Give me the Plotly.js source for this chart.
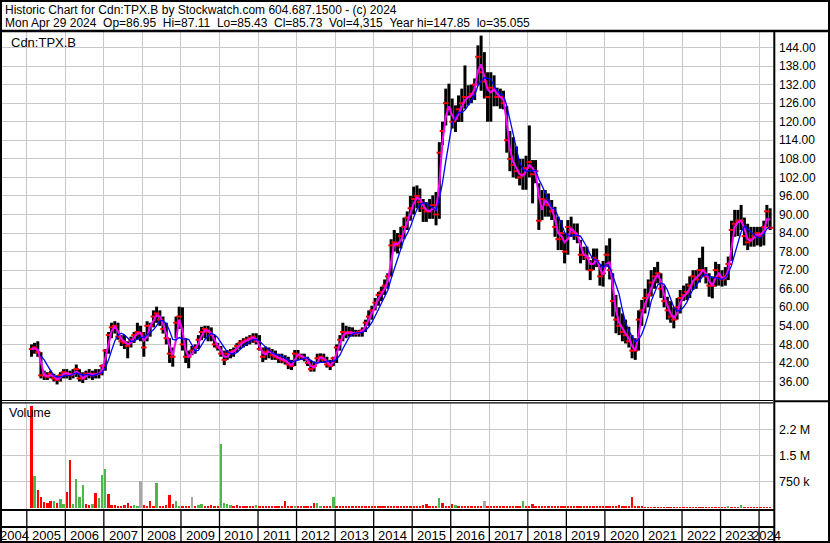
<!DOCTYPE html>
<html>
<head>
<meta charset="utf-8">
<script src="https://cdn.plot.ly/plotly-3.0.1.min.js"></script>
<style>
html,body{margin:0;padding:0;background:#fff;}
#chart{width:830px;height:543px;}
</style>
</head>
<body>
<div id="chart"></div>
<script>
// ---------------- DATA (monthly, Feb 2005 .. Apr 2024) ----------------
const startYear = 2005, startMonth = 2;

const high = [
  48,48.5,49,45.5,39.5,39,39.5,38.5,38,39,40,
  40,39.5,40,41.5,40,39,39.5,40,39.5,40,40,41.5,
  46.5,52,55,55.5,55,51,51,49,50.5,52,55,54,
  52,55.5,55,59,60.2,59,57,55,50,47,57,60.2,
  60,50,46,47.5,48,51,53.7,54,54,53.5,51,48.5,
  47.5,46,46.2,46.5,47,48.4,49.4,50,50.5,51,51.6,51.6,
  51,47,47.3,47,46.5,46,45,45,44.5,44,43,46.2,
  46.2,45,45,44,43,42.5,45,45.1,45,44,43,44,
  48,51,55,54,53.7,53.5,52.7,52.7,53.5,56,59,60.5,
  63,65,66.7,69,71,82,85,84,86,89,91,96,
  99,99.4,98.4,95,94,95,96.2,97.3,113.4,120,130.7,132.3,
  127.5,125.3,128.5,130.7,138.2,131.8,132,134,144.7,147.85,142.5,136,
  136,135,131,130.7,130,125,117,115,112,108,108,109,
  118.8,107.6,107.6,100.1,97.9,97.9,96.8,94.7,92.5,89.3,88.2,83.9,
  88.2,89.3,87.1,87.1,81.8,79.6,79.6,75.3,79,79,74,75,
  80,82.3,71,64,60,58,56,53.7,51,50,59,62.4,
  66,69,72,73,74.7,71,67,63.4,62,60,63,65.6,
  67,67.7,70,72,72,76,79.6,73,71,70,74.7,74,
  72,73,76.4,88,91.5,91.5,93.1,89,87,86,86,86,
  86,88,93.1,92
];
const low = [
  44,45,44,37,36.5,36.5,37,36,35.055,36,37,
  37,36.5,37,37.5,36,35.5,36.5,37,36.5,37,37,38,
  39.5,45,50,51.5,49.5,47.5,46.5,43.5,47,48.5,49.5,49,
  44,49,50.5,53.5,55,54,51.5,48,42,40.8,50,53,
  46,42,40.3,44.5,45,46.5,49.4,50,49,49,47,46,
  44,41.3,43,43.5,44,45.5,46.5,47,47.5,48,48.5,48,
  46,42.3,43,43.5,43,43,42,41.9,41.5,40,39.7,41,
  43,43,42.5,41,39.2,39.2,41.9,42,42,40.5,39.7,41,
  42,46,49,50,50.5,50.5,50.5,50.5,50.5,52,54,56,
  59,60.5,62,64,66,70,78,77.4,79,82,85,88,
  90,92,90.8,87.6,87.6,88.6,88.6,86.5,88.6,112.4,118.8,122,
  117.8,116.7,119.9,119.9,124.2,125.3,126,127,131.8,130,127.5,120,
  120,125,125,124.2,124,110,104,102,101.6,99.4,98,98,
  102,93.6,100.1,85,88.2,89.3,89.3,88.2,82.8,78.5,78.5,74.2,
  77,82.8,81.8,80.7,74.2,75.3,72,68.8,72,73,67,66.7,
  73,69,57,51.6,51,49,48.3,47,43.5,43,46,54,
  58,60,63.5,66,67.7,63,60,56,55,53.2,56,58,
  62,62.3,63,65.6,66,68,69.9,67.7,63.4,62.9,66.7,67,
  66.7,67,68.8,75,82.8,83,85,80,78.5,79.6,79.6,80,
  79.6,80,86,85
];
const close = [
  46.5,47,45.5,38,38,37.5,38.5,37,36.5,38,39,
  38.5,38,38.5,40,37,37,38.5,38.5,38,38.5,38.5,41,
  46,51,53.5,54,50.5,49,48.5,47.5,49.5,51,52,51.5,
  47,54,54,57,58,56,53,50,45,44,55,57,
  48,44,44,46,47,49.5,52,53,52,51,48,47,
  45,43,45,45.5,46,47.5,48.5,49,49.5,50,50.5,49,
  46.5,44,45.5,46,44.5,44,43.5,43,42.5,41.5,41,45,
  44.5,44,43.5,42,40,41,43.5,44,43,41.5,41,43.5,
  47,49.5,52,51.5,52,51.5,51.5,52,52.5,55,57,59,
  61.5,64,65,67,70,80,81,80,83,86,89,92,
  95,96,94,92,91,91,93,90,110,117,126,124,
  120,121,124,126,128,128,129,132,141,136,133,128,
  131,130,128,128,126,114,108,106,104,102,103,105,
  107,103,104,88,95,94,93,91,86,82,84,78,
  86,85,84,83,77,77,76,72,76,75,70,71,
  77,72,62,56,54,52,51,49,46,46,56,59,
  63,64,68,70,71,66,62,59,57,56,60,63,
  64,65,67,70,69,72,72,70,67,67,72,70,
  69,70,74,85,87,88,88,83,81,82,83,84,
  83,86,91,85.73
];
// largest daily volume seen in each month, millions of shares
const volume = [
  2.94,0.91,0.50,0.30,0.15,0.12,0.20,0.18,0.12,0.24,0.10,
  0.45,1.36,0.10,0.81,0.30,0.65,0.10,0.08,0.10,0.42,0.26,0.93,
  1.11,0.38,0.08,0.06,0.05,0.05,0.08,0.12,0.05,0.06,0.05,0.76,
  0.07,0.05,0.20,0.04,0.70,0.05,0.05,0.08,0.36,0.10,0.18,0.05,
  0.05,0.04,0.05,0.29,0.05,0.07,0.10,0.05,0.04,0.06,0.05,0.05,
  1.84,0.12,0.11,0.06,0.04,0.07,0.03,0.03,0.04,0.03,0.03,0.07,
  0.04,0.03,0.03,0.03,0.03,0.03,0.04,0.05,0.18,0.04,0.03,0.05,
  0.03,0.03,0.03,0.03,0.04,0.12,0.12,0.03,0.03,0.03,0.04,0.30,
  0.03,0.03,0.03,0.03,0.03,0.03,0.03,0.03,0.03,0.03,0.05,0.03,
  0.03,0.03,0.03,0.03,0.03,0.03,0.03,0.03,0.03,0.03,0.03,0.04,
  0.03,0.03,0.03,0.07,0.10,0.03,0.03,0.03,0.26,0.14,0.03,0.03,
  0.09,0.07,0.03,0.03,0.03,0.03,0.03,0.03,0.03,0.03,0.18,0.03,
  0.03,0.03,0.05,0.03,0.03,0.03,0.03,0.03,0.03,0.03,0.20,0.03,
  0.03,0.09,0.03,0.03,0.03,0.03,0.03,0.03,0.03,0.03,0.03,0.03,
  0.03,0.03,0.03,0.03,0.03,0.03,0.03,0.03,0.03,0.03,0.03,0.03,
  0.03,0.03,0.03,0.03,0.07,0.03,0.03,0.03,0.30,0.03,0.03,0.03,
  0.025,0.025,0.025,0.025,0.025,0.025,0.025,0.025,0.025,0.025,0.025,0.025,
  0.025,0.025,0.025,0.025,0.025,0.025,0.025,0.025,0.025,0.025,0.025,0.025,
  0.02,0.02,0.05,0.02,0.02,0.02,0.07,0.02,0.02,0.02,0.02,0.02,
  0.02,0.02,0.02,0.02
];
// u = up day, d = down day, n = unchanged
const volumeDir = (
  "duddddduduu" +
  "dduuuudduduu" +
  "udddddddduun" +
  "dddduddddduu" +
  "dddnduuddddd" +
  "uuuudddddddu" +
  "dddddddddddu" +
  "dddddduudddu" +
  "dddddddddddd" +
  "dddddddddddd" +
  "dddddddduddd" +
  "duddddddddnd" +
  "ddddddddddud" +
  "dddddddddddd" +
  "dddddddddddd" +
  "dddddddddddd" +
  "dddddddddddd" +
  "dddddddddddd" +
  "ddudddudddddd".slice(0, 12) +
  "dddd"
).split("");

const priceTicks = [36,42,48,54,60,66,72,78,84,90,96,102,108,114,120,126,132,138,144];
const volumeTicks = [0.75,1.5,2.25];
const volumeTickText = ["750 k","1.5 M","2.2 M"];
const yearLabels = ["2004","2005","2006","2007","2008","2009","2010","2011","2012","2013","2014",
                    "2015","2016","2017","2018","2019","2020","2021","2022","2023","2024"];

const headerLine1 = "Historic Chart for Cdn:TPX.B by Stockwatch.com 604.687.1500 - (c) 2024";
const headerLine2 = "Mon Apr 29 2024  Op=86.95  Hi=87.11  Lo=85.43  Cl=85.73  Vol=4,315  Year hi=147.85  lo=35.055";
const symbolLabel = "Cdn:TPX.B";

// ---------------- BUILD ----------------
const X_START = "2004-05-11", X_END = "2024-05-12";
const dates = close.map((_, i) => {
  const m0 = startMonth - 1 + i;
  const y = startYear + Math.floor(m0 / 12);
  const m = (m0 % 12) + 1;
  return y + "-" + String(m).padStart(2, "0") + "-15";
});
function sma(arr, n, minCount) {
  return arr.map((_, i) => {
    if (i + 1 < minCount) return null;
    const s = arr.slice(Math.max(0, i - n + 1), i + 1);
    return s.reduce((a, b) => a + b, 0) / s.length;
  });
}
const maShort = sma(close, 2, 1);
const maLong = sma(close, 5, 4);

const segX = [], segY = [];
dates.forEach((d, i) => { segX.push(d, d, null); segY.push(low[i], high[i], null); });

const dirColor = {u: "#4cb84c", d: "#ff0000", n: "#a8a8a8"};
const volColors = volumeDir.map(c => dirColor[c] || "#ff0000");

const FONT = "Liberation Sans, Arial, sans-serif";
const W0 = 2, W1 = 773, H0 = 32, H1 = 510;
const px = X => (X - W0) / (W1 - W0);
const py = Y => (H1 - Y) / (H1 - H0);

const traces = [
  {type: "scatter", mode: "lines", x: segX, y: segY, xaxis: "x", yaxis: "y",
   line: {color: "#000000", width: 3}, hoverinfo: "skip", connectgaps: false},
  {type: "scatter", mode: "markers", x: dates, y: close, xaxis: "x", yaxis: "y",
   marker: {symbol: "line-ew", size: 4, color: "#ff0000", line: {color: "#ff0000", width: 2}}},
  {type: "scatter", mode: "lines", x: dates, y: maShort, xaxis: "x", yaxis: "y",
   line: {color: "#ff00ff", width: 2}},
  {type: "scatter", mode: "lines", x: dates, y: maLong, xaxis: "x", yaxis: "y",
   line: {color: "#0000ff", width: 1.3}},
  {type: "bar", x: dates, y: volume, xaxis: "x2", yaxis: "y2",
   marker: {color: volColors, line: {width: 0}}, width: 22 * 86400000}
];

const shapes = [];
function line(x0, y0, x1, y1, w) {
  shapes.push({type: "line", xref: "paper", yref: "paper", x0: px(x0), y0: py(y0), x1: px(x1), y1: py(y1),
               line: {color: "#000", width: w}});
}
line(0, 1, 830, 1, 2);          // top border
line(1, 0, 1, 543, 2);          // left border
line(829, 0, 829, 543, 2);      // right border
line(0, 542, 830, 542, 2);      // bottom border
line(0, 31, 830, 31, 2.5);      // header separator
line(774.3, 31, 774.3, 543, 2); // axis separator
line(2, 400.5, 773, 400.5, 1.2);
line(2, 402.8, 773, 402.8, 1.2);
line(774, 401.3, 830, 401.3, 2);
line(0, 510, 774, 510, 2);      // volume bottom
line(0, 527, 774, 527, 2);      // year band line
for (let y = 2005; y <= 2024; y++) {
  shapes.push({type: "line", xref: "x2", yref: "paper", x0: y + "-01-01", x1: y + "-01-01",
               y0: py(510), y1: py(542), line: {color: "#000", width: 1.3}});
}

const annotations = [
  {text: headerLine1.replace(/ {2}/g, "\u00a0\u00a0"), xref: "paper", yref: "paper", x: px(3), y: py(10),
   xanchor: "left", yanchor: "middle", showarrow: false, font: {family: FONT, size: 12, color: "#000"}},
  {text: headerLine2.replace(/ {2}/g, "\u00a0\u00a0"), xref: "paper", yref: "paper", x: px(3), y: py(23),
   xanchor: "left", yanchor: "middle", showarrow: false, font: {family: FONT, size: 12, color: "#000"}},
  {text: symbolLabel, xref: "paper", yref: "paper", x: px(9), y: py(42),
   xanchor: "left", yanchor: "middle", showarrow: false, font: {family: FONT, size: 13, color: "#000"}},
  {text: "Volume", xref: "paper", yref: "paper", x: px(7), y: py(413),
   xanchor: "left", yanchor: "middle", showarrow: false, font: {family: FONT, size: 12.5, color: "#000"}}
];
const tS = Date.parse(X_START), tE = Date.parse(X_END);
yearLabels.forEach(lbl => {
  const y = parseInt(lbl, 10);
  const a = Math.max(Date.UTC(y, 0, 1), tS), b = Math.min(Date.UTC(y + 1, 0, 1), tE);
  annotations.push({text: lbl, xref: "x2", yref: "paper", x: new Date((a + b) / 2).toISOString().slice(0, 10),
    y: py(535), xanchor: "center", yanchor: "middle", showarrow: false,
    font: {family: FONT, size: 13, color: "#000"}});
});

const xCommon = {type: "date", range: [X_START, X_END], showticklabels: false, ticks: "",
  tick0: "2005-01-01", dtick: "M12", showgrid: true, gridcolor: "#c8c8c8", gridwidth: 1,
  zeroline: false, showline: false, fixedrange: true};

const layout = {
  width: 830, height: 543,
  margin: {l: W0, r: 830 - W1, t: H0, b: 543 - H1, pad: 0},
  paper_bgcolor: "#ffffff", plot_bgcolor: "#ffffff",
  showlegend: false, bargap: 0,
  font: {family: FONT, size: 12, color: "#000"},
  xaxis: Object.assign({}, xCommon, {anchor: "y"}),
  xaxis2: Object.assign({}, xCommon, {anchor: "y2", matches: "x"}),
  yaxis: {domain: [py(400), 1], range: [30.02, 149.01], side: "right", anchor: "x",
    tickvals: priceTicks, ticktext: priceTicks.map(v => v.toFixed(2)), ticks: "", ticklabelstandoff: 5,
    showgrid: true, gridcolor: "#c8c8c8", gridwidth: 1, zeroline: false, showline: false,
    tickfont: {family: FONT, size: 12, color: "#000"}, fixedrange: true},
  yaxis2: {domain: [0, py(402.5)], range: [-0.072, 3.029], side: "right", anchor: "x2",
    tickvals: volumeTicks, ticktext: volumeTickText, ticks: "", ticklabelstandoff: 5,
    showgrid: true, gridcolor: "#c8c8c8", gridwidth: 1, zeroline: false, showline: false,
    tickfont: {family: FONT, size: 12.5, color: "#000"}, fixedrange: true},
  shapes: shapes,
  annotations: annotations
};

Plotly.newPlot("chart", traces, layout, {displayModeBar: false, staticPlot: true});
</script>
</body>
</html>
